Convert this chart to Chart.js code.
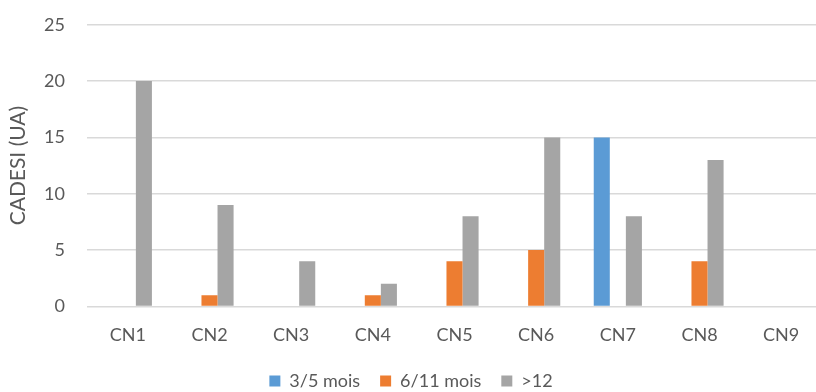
<!DOCTYPE html>
<html>
<head>
<meta charset="utf-8">
<script src="https://cdn.jsdelivr.net/npm/chart.js@4"></script>
<style>
  html, body { margin: 0; padding: 0; background: #ffffff; overflow: hidden; }
  #wrap { width: 822px; height: 408px; position: relative; top: -8px; }
</style>
</head>
<body>
<div id="wrap"><canvas id="c"></canvas></div>
<script>
// Scores CADESI par chien et par tranche d'âge
const categories = ['CN1', 'CN2', 'CN3', 'CN4', 'CN5', 'CN6', 'CN7', 'CN8', 'CN9'];
const seriesNames = ['3/5 mois', '6/11 mois', '>12'];
const values3to5 = [0, 0, 0, 0, 0, 0, 15, 0, 0];
const values6to11 = [0, 1, 0, 1, 4, 5, 0, 4, 0];
const valuesOver12 = [20, 9, 4, 2, 8, 15, 8, 13, 0];
const yTicks = [0, 5, 10, 15, 20, 25];

const colors = ['#5B9BD5', '#ED7D31', '#A5A5A5'];
const textColor = '#595959';
const fontFamily = 'Lato, "Open Sans", sans-serif';

new Chart(document.getElementById('c'), {
  type: 'bar',
  data: {
    labels: categories,
    datasets: [values3to5, values6to11, valuesOver12].map((d, i) => ({
      label: seriesNames[i],
      data: d,
      backgroundColor: colors[i],
      borderWidth: 0,
      categoryPercentage: 0.59,
      barPercentage: 1.0
    }))
  },
  options: {
    responsive: true,
    maintainAspectRatio: false,
    animation: false,
    layout: { padding: { top: 0, right: 0, bottom: 0, left: 0 } },
    plugins: {
      tooltip: { enabled: false },
      legend: {
        position: 'bottom',
        labels: {
          color: textColor,
          font: { family: fontFamily, size: 18 },
          boxWidth: 11,
          boxHeight: 11,
          padding: 20
        }
      }
    },
    scales: {
      x: {
        grid: { display: false, drawTicks: true, tickLength: 8 },
        border: { display: false },
        ticks: { color: textColor, font: { family: fontFamily, size: 18 }, padding: 10 },
        // tighten the gap between the category labels and the legend
        afterFit: (scale) => { scale.height -= 4; }
      },
      y: {
        min: 0,
        max: 25,
        afterBuildTicks: (axis) => { axis.ticks = yTicks.map(v => ({ value: v })); },
        // fixed width for the value axis block (title + tick labels)
        afterFit: (scale) => { scale.width = 87; },
        grid: { color: '#d9d9d9', lineWidth: 1.5, drawTicks: false },
        border: { display: false },
        ticks: { color: textColor, font: { family: fontFamily, size: 18 }, padding: 22 },
        title: {
          display: true,
          text: 'CADESI (UA)',
          color: textColor,
          font: { family: fontFamily, size: 21 },
          padding: { top: 6, bottom: 0 }
        }
      }
    }
  }
});
</script>
</body>
</html>
